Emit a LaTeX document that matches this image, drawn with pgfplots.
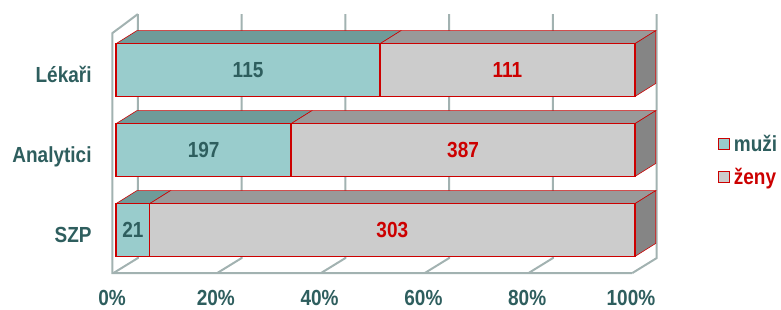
\documentclass[border=0pt]{standalone}
\usepackage{graphicx}
\usepackage{pgfplots}
\pgfplotsset{compat=1.18}
\usepackage{fontspec}
\setmainfont{Liberation Sans}
\definecolor{muzi}{HTML}{99CCCC}
\definecolor{muzitop}{HTML}{6F9B99}
\definecolor{zeny}{HTML}{CCCCCC}
\definecolor{zenytop}{HTML}{999999}
\definecolor{zenyside}{HTML}{858585}
\definecolor{barred}{HTML}{CC0000}
\definecolor{txtteal}{HTML}{2E5E5E}
\definecolor{gridc}{HTML}{A2B2B1}
\newcommand{\chartfont}{\fontsize{19bp}{22bp}\selectfont\bfseries}
\newcommand{\T}[1]{\scalebox{1}[1.15]{#1}}
\begin{document}
\begin{tikzpicture}
\begin{axis}[
  x=5.19bp, y=80bp,
  xmin=-22.35, xmax=128.13, ymin=-0.9875, ymax=2.875,
  axis line style={draw=none}, major tick length=0pt,
  clip=false, no markers,
  xtick={0,20,40,60,80,100},
  xticklabels={\T{0\%},\T{20\%},\T{40\%},\T{60\%},\T{80\%},\T{100\%}},
  ytick={0,1,2}, yticklabels={{\T{SZP}},{\T{Analytici}},{\T{Lékaři}}},
  tick label style={font=\chartfont, text=txtteal},
  xticklabel style={anchor=base, yshift=4bp, xshift=-4bp},
  yticklabel style={anchor=base east, xshift=95bp, yshift=-12bp},
  legend style={draw=none, fill=none, at={(0.919,0.568)}, anchor=north west,
    font=\chartfont, row sep=12bp, column sep=2bp, inner sep=0pt, nodes={inner sep=1.5bp}},
  legend cell align=left,
  legend image code/.code={\draw[#1, line width=1.5bp] (0bp,-5.5bp) rectangle (11bp,5.5bp);},
]
% walls and grid
\addplot[gridc, line width=2bp, forget plot] coordinates {(4.2,2.7) (-0.7,2.4625) (-0.7,-0.5375) (99.5,-0.5375)};
\addplot[gridc, line width=2bp, forget plot] coordinates {(4.2,2.7) (4.2,-0.35) (-0.5,-0.5375)};
\addplot[gridc, line width=2bp, forget plot] coordinates {(24.2,2.7) (24.2,-0.35) (19.5,-0.5375)};
\addplot[gridc, line width=2bp, forget plot] coordinates {(44.2,2.7) (44.2,-0.35) (39.5,-0.5375)};
\addplot[gridc, line width=2bp, forget plot] coordinates {(64.2,2.7) (64.2,-0.35) (59.5,-0.5375)};
\addplot[gridc, line width=2bp, forget plot] coordinates {(84.2,2.7) (84.2,-0.35) (79.5,-0.5375)};
\addplot[gridc, line width=2bp, forget plot] coordinates {(104.2,2.7) (104.2,-0.35) (99.5,-0.5375)};
% Lekari (y=2): muzi 115, zeny 111 -> 50.885 %
\addplot[fill=muzitop, draw=barred, line width=0.6bp, forget plot] coordinates {(0,2.33) (50.885,2.33) (54.885,2.4925) (4,2.4925)} -- cycle;
\addplot[fill=zenytop, draw=barred, line width=0.6bp, forget plot] coordinates {(50.885,2.33) (100,2.33) (104,2.4925) (54.885,2.4925)} -- cycle;
\addplot[fill=zenyside, draw=barred, line width=0.6bp, forget plot] coordinates {(100,1.67) (100,2.33) (104,2.4925) (104,1.8325)} -- cycle;
\addplot[fill=muzi, draw=barred, line width=1.5bp, forget plot] coordinates {(0,1.67) (50.885,1.67) (50.885,2.33) (0,2.33)} -- cycle;
\addplot[fill=zeny, draw=barred, line width=1.5bp, forget plot] coordinates {(50.885,1.67) (100,1.67) (100,2.33) (50.885,2.33)} -- cycle;
% Analytici (y=1): muzi 197, zeny 387 -> 33.733 %
\addplot[fill=muzitop, draw=barred, line width=0.6bp, forget plot] coordinates {(0,1.33) (33.733,1.33) (37.733,1.4925) (4,1.4925)} -- cycle;
\addplot[fill=zenytop, draw=barred, line width=0.6bp, forget plot] coordinates {(33.733,1.33) (100,1.33) (104,1.4925) (37.733,1.4925)} -- cycle;
\addplot[fill=zenyside, draw=barred, line width=0.6bp, forget plot] coordinates {(100,0.67) (100,1.33) (104,1.4925) (104,0.8325)} -- cycle;
\addplot[fill=muzi, draw=barred, line width=1.5bp, forget plot] coordinates {(0,0.67) (33.733,0.67) (33.733,1.33) (0,1.33)} -- cycle;
\addplot[fill=zeny, draw=barred, line width=1.5bp, forget plot] coordinates {(33.733,0.67) (100,0.67) (100,1.33) (33.733,1.33)} -- cycle;
% SZP (y=0): muzi 21, zeny 303 -> 6.481 %
\addplot[fill=muzitop, draw=barred, line width=0.6bp, forget plot] coordinates {(0,0.33) (6.481,0.33) (10.481,0.4925) (4,0.4925)} -- cycle;
\addplot[fill=zenytop, draw=barred, line width=0.6bp, forget plot] coordinates {(6.481,0.33) (100,0.33) (104,0.4925) (10.481,0.4925)} -- cycle;
\addplot[fill=zenyside, draw=barred, line width=0.6bp, forget plot] coordinates {(100,-0.33) (100,0.33) (104,0.4925) (104,-0.1675)} -- cycle;
\addplot[fill=muzi, draw=barred, line width=1.5bp, forget plot] coordinates {(0,-0.33) (6.481,-0.33) (6.481,0.33) (0,0.33)} -- cycle;
\addplot[fill=zeny, draw=barred, line width=1.5bp, forget plot] coordinates {(6.481,-0.33) (100,-0.33) (100,0.33) (6.481,0.33)} -- cycle;
% value labels
\addplot[draw=none, forget plot, nodes near coords={\T{\pgfplotspointmeta}}, point meta=explicit symbolic,
  every node near coord/.append style={anchor=center, text=txtteal, font=\chartfont}]
  coordinates {(25.44,2) [115] (16.87,1) [197] (3.24,0) [21]};
\addplot[draw=none, forget plot, nodes near coords={\T{\pgfplotspointmeta}}, point meta=explicit symbolic,
  every node near coord/.append style={anchor=center, text=barred, font=\chartfont}]
  coordinates {(75.44,2) [111] (66.87,1) [387] (53.24,0) [303]};
% legend
\addlegendimage{fill=muzi, draw=barred}
\addlegendentry{\textcolor{txtteal}{\T{muži}}}
\addlegendimage{fill=zeny, draw=barred}
\addlegendentry{\textcolor{barred}{\T{ženy}}}
\end{axis}
\end{tikzpicture}
\end{document}
